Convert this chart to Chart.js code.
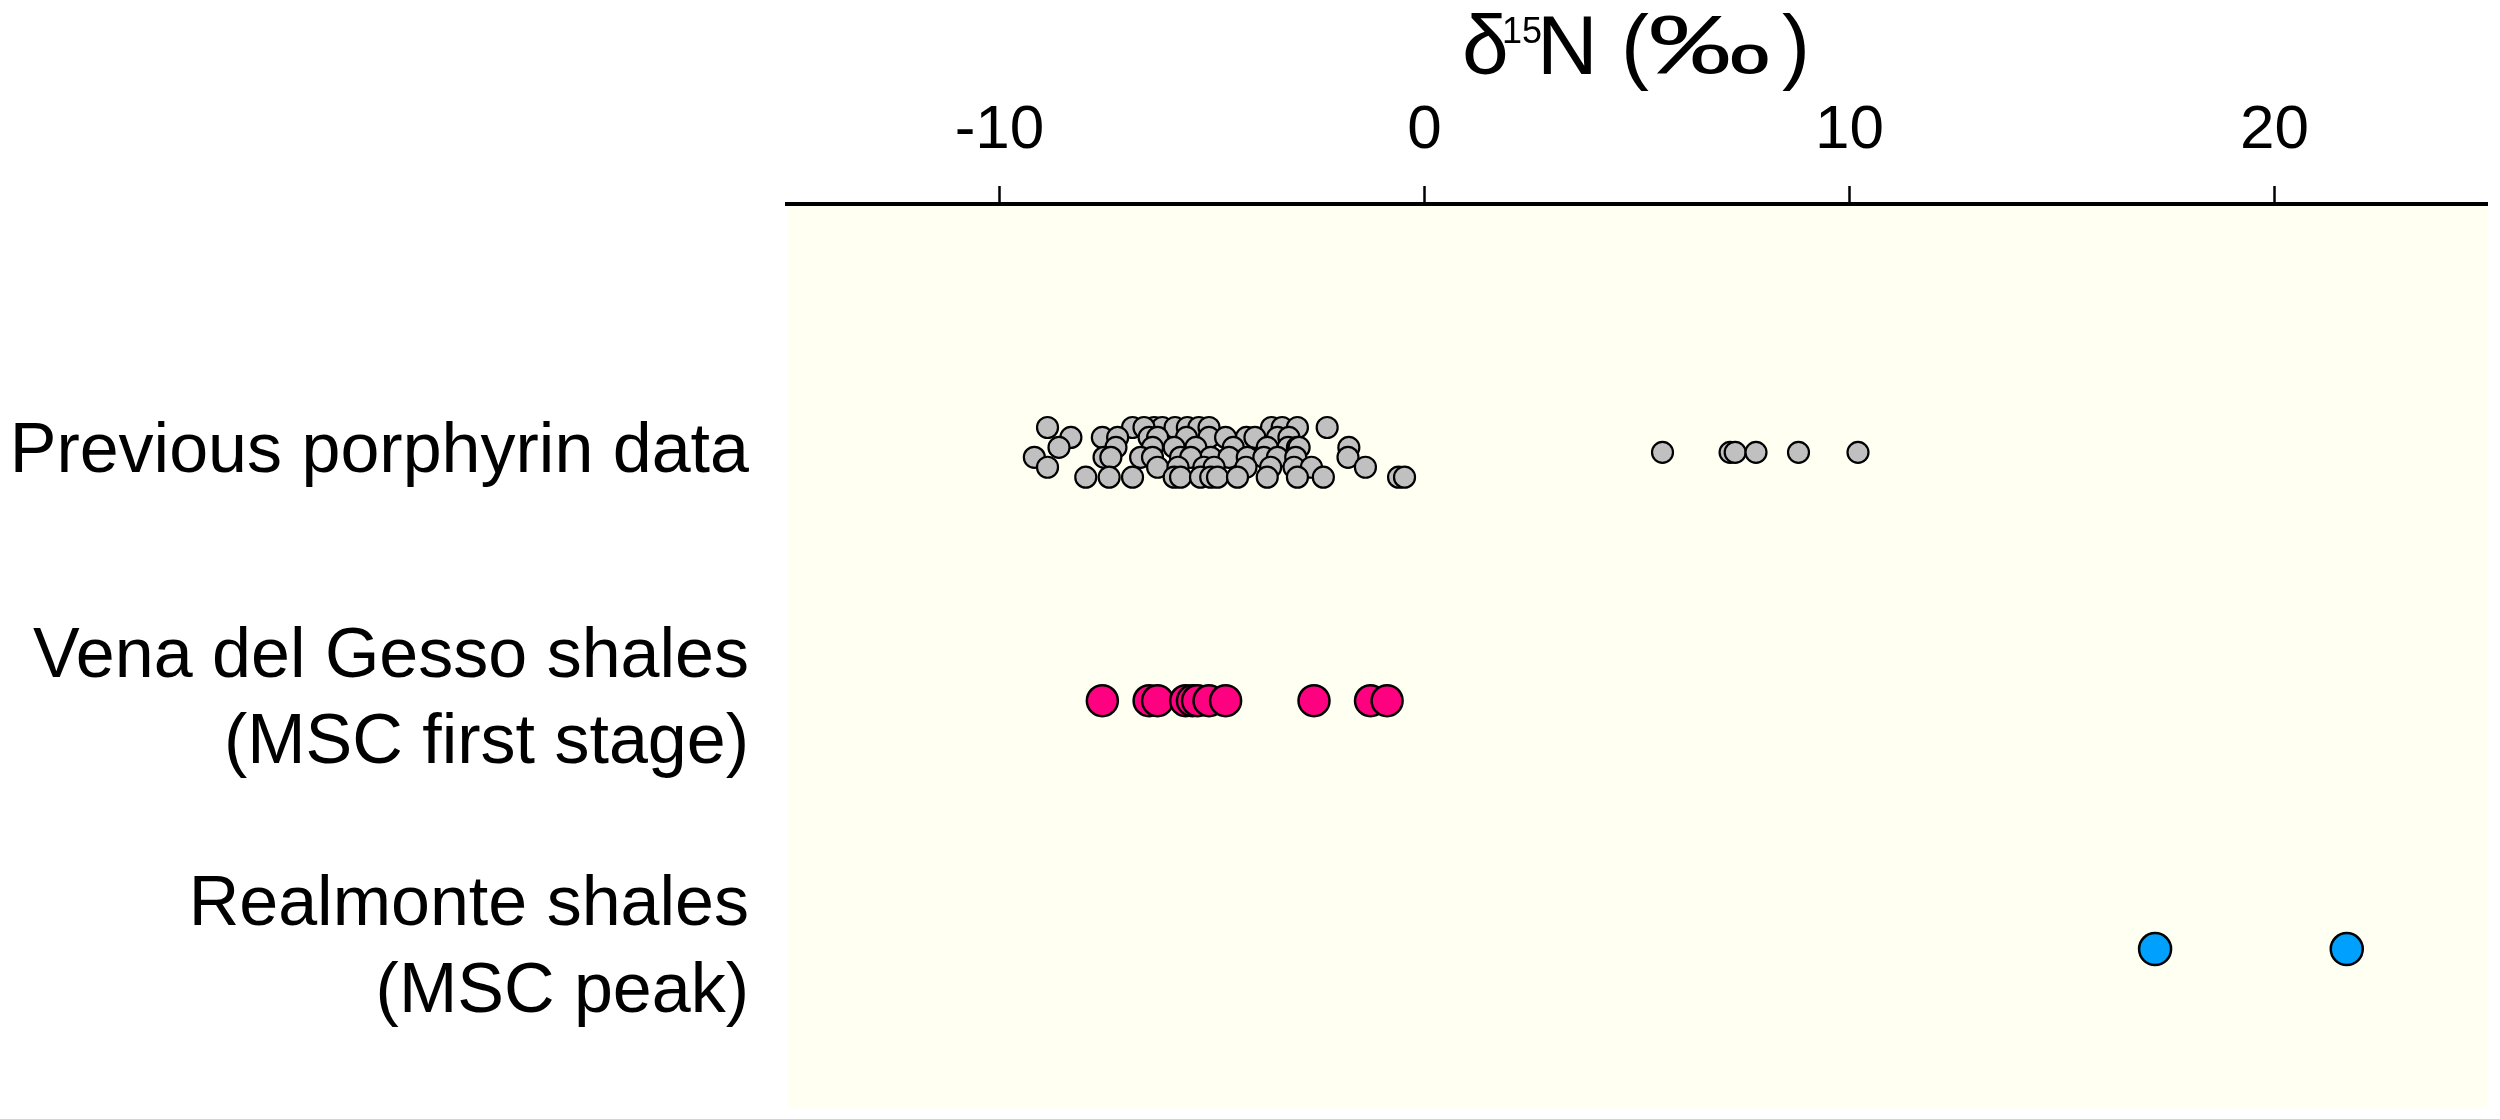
<!DOCTYPE html>
<html><head><meta charset="utf-8">
<script src="https://cdn.jsdelivr.net/npm/chart.js@4.4.0/dist/chart.umd.min.js"></script>
<style>html,body{margin:0;padding:0;background:#fff;}</style>
</head><body>
<canvas id="c" width="2500" height="1119" style="display:block;width:2500px;height:1119px"></canvas>
<script>
// ---- data ----
const categories = [
  ["Previous porphyrin data"],
  ["Vena del Gesso shales", "(MSC first stage)"],
  ["Realmonte shales", "(MSC peak)"]
];
const xTicks = [-10, 0, 10, 20];
const titleParts = ["δ", "15", "N", "(", "‰", ")"];

// Previous porphyrin data: δ15N values and vertical jitter (category units)
const previousX = [
  -8.87, -6.87, -6.36, -6.17, -5.87, -5.58, -5.31, -5.07, -3.60, -3.35, -2.99, -2.29, -6.60,
  -8.32, -7.58, -7.22, -6.48, -6.28, -5.07, -4.68, -4.19, -3.99, -3.46, -3.19, -5.60,
  -8.60, -7.26, -5.89, -5.38, -3.70, -3.21, -2.99, -2.95, -1.78, -6.40, -4.50,
  -9.18, -7.54, -7.38, -6.68, -6.40, -5.74, -5.03, -4.60, -4.17, -3.78, -3.46, -3.03, -1.80, -5.50,
  -8.87, -6.28, -5.19, -4.95, -3.62, -3.07, -2.66, -1.39, -5.80, -4.20,
  -7.97, -7.42, -6.87, -5.89, -5.74, -5.27, -5.03, -4.87, -4.40, -3.70, -2.99, -2.38, -0.61, -0.47,
  5.60, 7.19, 7.31, 7.80, 8.80, 10.20
];
const previousJitter = [
  -0.10, -0.10, -0.10, -0.10, -0.10, -0.10, -0.10, -0.10, -0.10, -0.10, -0.10, -0.10, -0.10,
  -0.06, -0.06, -0.06, -0.06, -0.06, -0.06, -0.06, -0.06, -0.06, -0.06, -0.06, -0.06,
  -0.02, -0.02, -0.02, -0.02, -0.02, -0.02, -0.02, -0.02, -0.02, -0.02, -0.02,
  0.02, 0.02, 0.02, 0.02, 0.02, 0.02, 0.02, 0.02, 0.02, 0.02, 0.02, 0.02, 0.02, 0.02,
  0.06, 0.06, 0.06, 0.06, 0.06, 0.06, 0.06, 0.06, 0.06, 0.06,
  0.10, 0.10, 0.10, 0.10, 0.10, 0.10, 0.10, 0.10, 0.10, 0.10, 0.10, 0.10, 0.10, 0.10,
  0, 0, 0, 0, 0, 0
];
const venaX = [-7.58, -6.48, -6.28, -5.62, -5.46, -5.34, -5.07, -4.68, -2.60, -1.27, -0.88];
const realmonteX = [17.19, 21.70];

// ---- build ----
const FONT = '"Liberation Sans", Arial, sans-serif';
const pts = (xs, cat, jit) => xs.map((v, i) => ({ x: v, y: cat + (jit ? jit[i] : 0) }));

const bgPlugin = {
  id: 'bg',
  beforeDraw(chart) {
    const { ctx, chartArea: a } = chart;
    ctx.save();
    ctx.fillStyle = 'rgb(255,255,242)';
    ctx.fillRect(a.left, a.top, a.right - a.left, a.bottom - a.top);
    ctx.restore();
  }
};
// title pieces: [font size, ink-left offset from chart-area centre, baseline, ink width (0 = natural)]
const titleLayout = [
  [84, -172, 74, 0],
  [36, -133, 43, 0],
  [84, -94, 74, 0],
  [84, -11, 74, 0],
  [84, 14, 74, 117],
  [84, 145, 74, 0]
];
const titlePlugin = {
  id: 'axisTitle',
  afterDraw(chart) {
    const { ctx, chartArea: a } = chart;
    const cx = (a.left + a.right) / 2;
    ctx.save();
    ctx.fillStyle = '#000';
    ctx.textBaseline = 'alphabetic';
    ctx.textAlign = 'left';
    titleParts.forEach((t, i) => {
      const [size, off, base, w] = titleLayout[i];
      ctx.font = size + 'px ' + FONT;
      const m = ctx.measureText(t);
      const abl = m.actualBoundingBoxLeft, inkW = abl + m.actualBoundingBoxRight;
      const sx = w ? w / inkW : 1;
      ctx.save();
      ctx.translate(cx + off, 0);
      ctx.scale(sx, 1);
      ctx.fillText(t, abl, base);
      ctx.restore();
    });
    ctx.restore();
  }
};

new Chart(document.getElementById('c'), {
  type: 'scatter',
  data: {
    datasets: [
      { label: 'Previous porphyrin data', data: pts(previousX, 0, previousJitter),
        backgroundColor: '#C0C0C0', borderColor: '#000', borderWidth: 2.2, pointRadius: 10.5 },
      { label: 'Vena del Gesso shales', data: pts(venaX, 1),
        backgroundColor: '#FF0080', borderColor: '#000', borderWidth: 2.5, pointRadius: 15.5 },
      { label: 'Realmonte shales', data: pts(realmonteX, 2),
        backgroundColor: '#00A0FF', borderColor: '#000', borderWidth: 2.5, pointRadius: 16 }
    ]
  },
  options: {
    responsive: false,
    animation: false,
    devicePixelRatio: 1,
    layout: { autoPadding: false, padding: { left: 0, right: 13, top: 0, bottom: 11 } },
    plugins: { legend: { display: false }, tooltip: { enabled: false } },
    scales: {
      x: {
        type: 'linear', position: 'top', min: -15, max: 25,
        afterBuildTicks: s => { s.ticks = xTicks.map(v => ({ value: v })); },
        afterFit: s => { s.height = 204; s.paddingLeft = 0; s.paddingRight = 0; },
        ticks: { font: { family: FONT, size: 62 }, color: '#000', padding: 18, maxRotation: 0, autoSkip: false },
        grid: { drawOnChartArea: false, drawTicks: true, tickLength: 18, tickColor: '#000', tickWidth: 2.5 },
        border: { display: true, color: '#000', width: 4 }
      },
      y: {
        type: 'linear', reverse: true, min: -1, max: 2.64,
        afterBuildTicks: s => { s.ticks = categories.map((c, i) => ({ value: i })); },
        afterFit: s => { s.width = 787; s.paddingTop = 0; s.paddingBottom = 0; },
        ticks: { callback: (v, i) => categories[i], font: { family: FONT, size: 70, lineHeight: 1.24 },
                 color: '#000', padding: 38, autoSkip: false },
        grid: { display: false, drawTicks: false },
        border: { display: false }
      }
    }
  },
  plugins: [bgPlugin, titlePlugin]
});
</script>
</body></html>
